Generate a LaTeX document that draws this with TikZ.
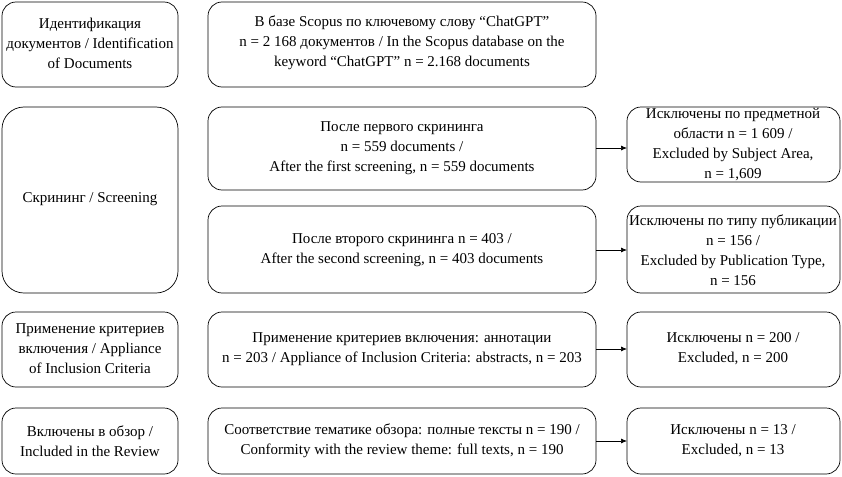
\documentclass[tikz,border=0pt]{standalone}
\usepackage{fontspec}
\setmainfont{Liberation Serif}
\usetikzlibrary{arrows.meta}
\begin{document}
\begin{tikzpicture}[x=1pt,y=-1pt,
  box/.style={draw=black,line width=0.7pt,rounded corners=14pt},
  txt/.style={align=center,font=\fontsize{15}{20}\selectfont,inner sep=0pt},
  arr/.style={-{Latex[length=6pt,width=5pt]},line width=0.7pt}]
\useasboundingbox (0,0) rectangle (842,476);
% left column
\draw[box] (2,2) rectangle (178,87);
\node[txt] (l1) at (90,43) {Идентификация\\документов / Identification\\of Documents};
\draw[box,rounded corners=22pt] (2,107) rectangle (178,293);
\node[txt] (l2) at (90,199) {Скрининг / Screening};
\draw[box] (2,312) rectangle (178,387);
\node[txt] (l3) at (90,349) {Применение критериев\\включения / Appliance\\of Inclusion Criteria};
\draw[box] (2,408) rectangle (178,474);
\node[txt] (l4) at (90,441) {Включены в обзор /\\Included in the Review};
% middle column
\draw[box] (208,2) rectangle (596,87);
\node[txt] (m1) at (402,43) {В базе Scopus по ключевому слову “ChatGPT”\\n = 2 168 документов / In the Scopus database on the\\keyword “ChatGPT” n = 2.168 documents};
\draw[box] (208,107) rectangle (596,190);
\coordinate (m2r) at (596,148);
\node[txt] (m2) at (402,148) {После первого скрининга\\n = 559 documents /\\After the first screening, n = 559 documents};
\draw[box] (208,206) rectangle (596,293);
\coordinate (m3r) at (596,250);
\node[txt] (m3) at (402,250) {После второго скрининга n = 403 /\\After the second screening, n = 403 documents};
\draw[box] (208,312) rectangle (596,387);
\coordinate (m4r) at (596,349);
\node[txt] (m4) at (402,349) {Применение критериев включения: аннотации\\n = 203 / Appliance of Inclusion Criteria: abstracts, n = 203};
\draw[box] (208,408) rectangle (596,474);
\coordinate (m5r) at (596,441);
\node[txt] (m5) at (402,441) {Соответствие тематике обзора: полные тексты n = 190 /\\Conformity with the review theme: full texts, n = 190};
% right column
\draw[box] (627,107) rectangle (840,182);
\coordinate (r2l) at (627,148);
\node[txt] (r2) at (733,145) {Исключены по предметной\\области n = 1 609 /\\Excluded by Subject Area,\\n = 1,609};
\draw[box] (627,206) rectangle (840,293);
\coordinate (r3l) at (627,250);
\node[txt] (r3) at (733,250) {Исключены по типу публикации\\n = 156 /\\Excluded by Publication Type,\\n = 156};
\draw[box] (627,312) rectangle (840,387);
\coordinate (r4l) at (627,349);
\node[txt] (r4) at (733,349) {Исключены n = 200 /\\Excluded, n = 200};
\draw[box] (627,408) rectangle (840,474);
\coordinate (r5l) at (627,441);
\node[txt] (r5) at (733,441) {Исключены n = 13 /\\Excluded, n = 13};
% arrows
\draw[arr] (m2r) -- (r2l);
\draw[arr] (m3r) -- (r3l);
\draw[arr] (m4r) -- (r4l);
\draw[arr] (m5r) -- (r5l);
\end{tikzpicture}
\end{document}
